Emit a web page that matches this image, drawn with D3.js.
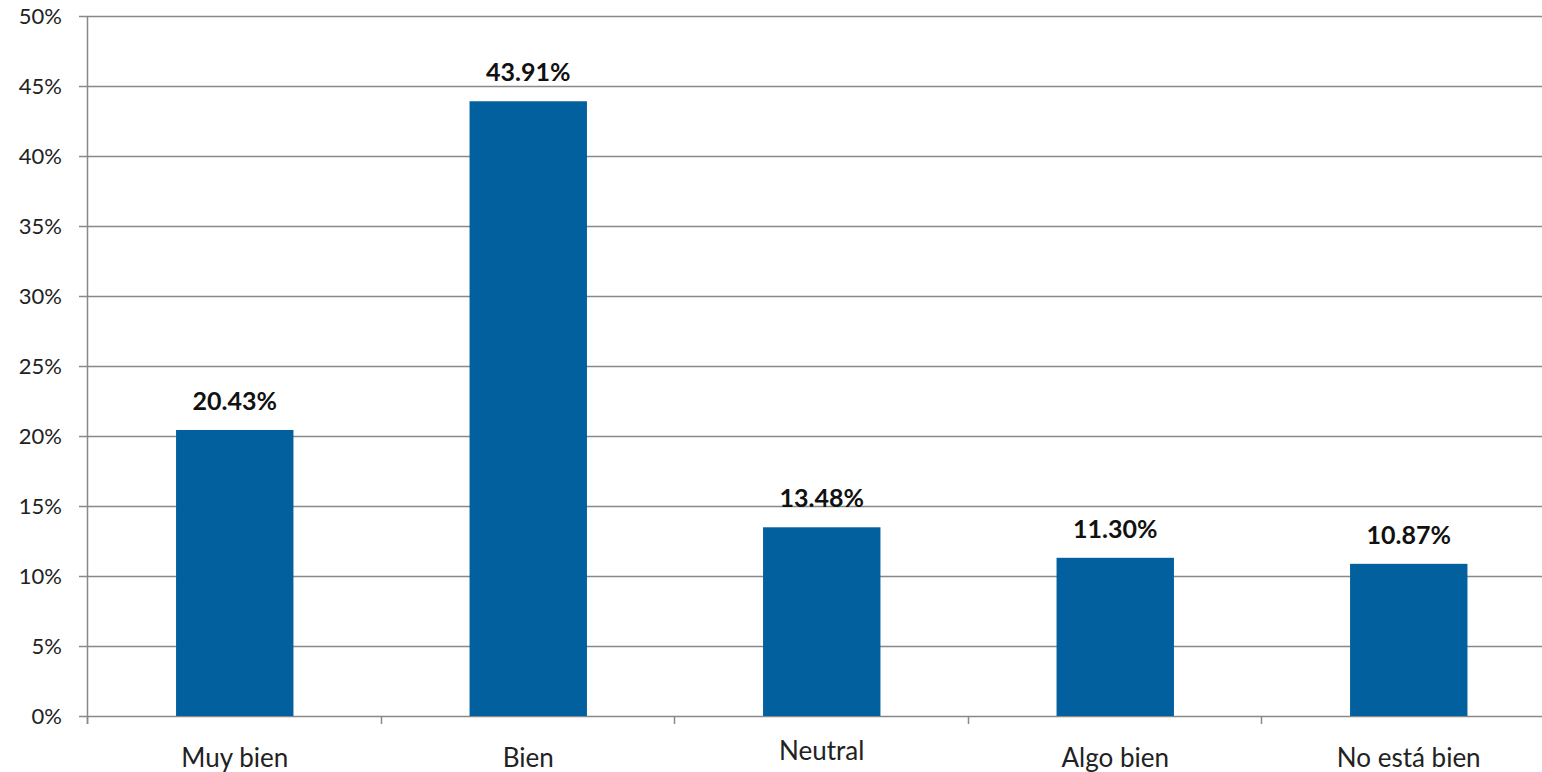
<!DOCTYPE html>
<html>
<head>
<meta charset="utf-8">
<script src="https://cdn.jsdelivr.net/npm/d3@7"></script>
<style>
  html, body { margin: 0; padding: 0; background: #fff; }
  svg { display: block; }
</style>
</head>
<body>
<svg id="chart" width="1542" height="772"></svg>
<script>
const categories = ['Muy bien', 'Bien', 'Neutral', 'Algo bien', 'No está bien'];
const values = [20.43, 43.91, 13.48, 11.30, 10.87];
const yTicks = [0, 5, 10, 15, 20, 25, 30, 35, 40, 45, 50];

const svg = d3.select('#chart');
const margin = { left: 88, top: 16, bottom: 56 };
const height = 772;
const plotRight = 88 + 5 * 293.5;

const x = d3.scaleBand()
  .domain(categories)
  .range([margin.left, plotRight])
  .paddingInner(0.6)
  .paddingOuter(0.3);

const y = d3.scaleLinear()
  .domain([0, 50])
  .range([height - margin.bottom, margin.top]);

const fontFamily = 'Lato, "Open Sans", sans-serif';

// Gridlines
svg.append('g')
  .selectAll('line')
  .data(yTicks)
  .enter()
  .append('line')
  .attr('x1', margin.left - 9)
  .attr('x2', 1542)
  .attr('y1', d => Math.round(y(d)) + 0.5)
  .attr('y2', d => Math.round(y(d)) + 0.5)
  .attr('stroke', '#898989')
  .attr('stroke-width', 1.5);

// Y axis line
svg.append('line')
  .attr('x1', margin.left - 0.5)
  .attr('x2', margin.left - 0.5)
  .attr('y1', y(50))
  .attr('y2', y(0) + 8)
  .attr('stroke', '#898989')
  .attr('stroke-width', 1.5);

// Y tick labels
svg.append('g')
  .selectAll('text')
  .data(yTicks)
  .enter()
  .append('text')
  .attr('x', 62)
  .attr('y', d => y(d))
  .attr('dy', '0.35em')
  .attr('text-anchor', 'end')
  .style('font-family', fontFamily)
  .style('font-size', '22px')
  .style('fill', '#222')
  .text(d => d + '%');

// X tick marks at band boundaries
const boundaries = d3.range(categories.length + 1).map(i => margin.left + i * x.step());
svg.append('g')
  .selectAll('line')
  .data(boundaries)
  .enter()
  .append('line')
  .attr('x1', d => Math.round(d) - 0.5)
  .attr('x2', d => Math.round(d) - 0.5)
  .attr('y1', y(0))
  .attr('y2', y(0) + 8)
  .attr('stroke', '#898989')
  .attr('stroke-width', 1.5);

// Bars
svg.append('g')
  .selectAll('rect')
  .data(values)
  .enter()
  .append('rect')
  .attr('x', (d, i) => x(categories[i]))
  .attr('y', d => y(d))
  .attr('width', x.bandwidth())
  .attr('height', d => y(0) - y(d))
  .attr('fill', '#02609F');

// Value labels
svg.append('g')
  .selectAll('text')
  .data(values)
  .enter()
  .append('text')
  .attr('x', (d, i) => x(categories[i]) + x.bandwidth() / 2)
  .attr('y', d => y(d) - 20)
  .attr('text-anchor', 'middle')
  .style('font-family', fontFamily)
  .style('font-size', '25px')
  .style('font-weight', 'bold')
  .style('fill', '#111')
  .text(d => d.toFixed(2) + '%');

// Category labels
svg.append('g')
  .selectAll('text')
  .data(categories)
  .enter()
  .append('text')
  .attr('x', d => x(d) + x.bandwidth() / 2)
  .attr('y', d => d === 'Neutral' ? 760 : 767)
  .attr('text-anchor', 'middle')
  .style('font-family', fontFamily)
  .style('font-size', '26px')
  .style('fill', '#222')
  .text(d => d);
</script>
</body>
</html>
